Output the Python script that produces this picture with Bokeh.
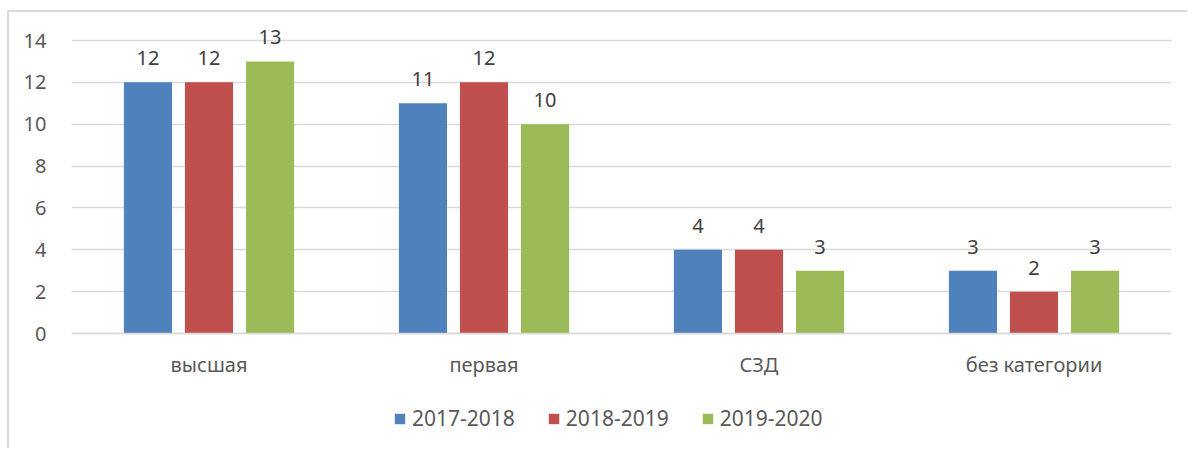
from bokeh.plotting import figure
from bokeh.models import ColumnDataSource, FactorRange, Legend, LegendItem, LabelSet, FixedTicker
from bokeh.core.properties import value
from bokeh.transform import dodge
from bokeh.embed import file_html
from bokeh.resources import INLINE

categories = ["высшая", "первая", "СЗД", "без категории"]
series_names = ["2017-2018", "2018-2019", "2019-2020"]
v2017 = [12, 11, 4, 3]
v2018 = [12, 12, 4, 2]
v2019 = [13, 10, 3, 3]
y_ticks = [0, 2, 4, 6, 8, 10, 12, 14]
colors = ["#4F81BD", "#C0504D", "#9BBB59"]

FONT = "Noto Sans"
FS = "20px"
TXT = "#595959"
GRID = "#d9d9d9"

src = ColumnDataSource(dict(cat=categories, a=v2017, b=v2018, c=v2019,
                            la=[str(v) for v in v2017], lb=[str(v) for v in v2018], lc=[str(v) for v in v2019]))

# layout: 14 at 40px, 0 at 333px; frame from 20px to 450px
px_per_unit = (333 - 40) / 14.0
y_bottom = -(450 - 333) / px_per_unit
y_top = 14 + (40 - 20) / px_per_unit

p = figure(x_range=FactorRange(*categories, range_padding=0), y_range=(y_bottom, y_top),
           width=1180, height=438, output_backend="svg", toolbar_location=None,
           min_border_left=62, min_border_right=18, min_border_top=8, min_border_bottom=0)
p.styles = {"border-left": "2px solid #d9d9d9", "border-top": "2px solid #d9d9d9",
            "margin-left": "7px", "margin-top": "10px"}
p.outline_line_color = None
p.x_range.range_padding = 0

offsets = [-0.222, 0.0, 0.222]
cols = ["a", "b", "c"]
lcols = ["la", "lb", "lc"]
renderers = []
for off, col, lc, color in zip(offsets, cols, lcols, colors):
    r = p.vbar(x=dodge("cat", off, range=p.x_range), top=col, width=0.175, source=src,
               fill_color=color, line_color=None)
    renderers.append(r)
    labels = LabelSet(x=dodge("cat", off, range=p.x_range), y=col, text=lc, source=src,
                      text_align="center", text_baseline="alphabetic", y_offset=17,
                      text_font=value(FONT), text_font_size=value(FS), text_color="#404040")
    p.add_layout(labels)

p.yaxis.ticker = FixedTicker(ticks=y_ticks)
p.yaxis.axis_line_color = None
p.yaxis.major_tick_line_color = None
p.yaxis.minor_tick_line_color = None
p.yaxis.major_label_standoff = 19
p.yaxis.major_label_text_font = FONT
p.yaxis.major_label_text_font_size = FS
p.yaxis.major_label_text_color = TXT

p.xaxis.fixed_location = 0
p.xaxis.axis_line_color = GRID
p.xaxis.axis_line_width = 1.5
p.xaxis.major_tick_line_color = None
p.xaxis.minor_tick_line_color = None
p.xaxis.major_label_standoff = 11
p.xaxis.major_label_text_font = FONT
p.xaxis.major_label_text_font_size = FS
p.xaxis.major_label_text_color = TXT

p.xgrid.grid_line_color = None
p.ygrid.grid_line_color = GRID
p.ygrid.grid_line_width = 1.5

legend = Legend(items=[LegendItem(label=n, renderers=[r]) for n, r in zip(series_names, renderers)],
                orientation="horizontal", location=(322, 18),
                glyph_width=13, glyph_height=13, label_standoff=6, spacing=32,
                padding=0, margin=0, border_line_color=None, background_fill_alpha=0,
                label_text_font=FONT, label_text_font_size="21px", label_text_color=TXT,
                label_height=20)
p.add_layout(legend, "center")

open("out.html", "w").write(file_html(p, INLINE))
